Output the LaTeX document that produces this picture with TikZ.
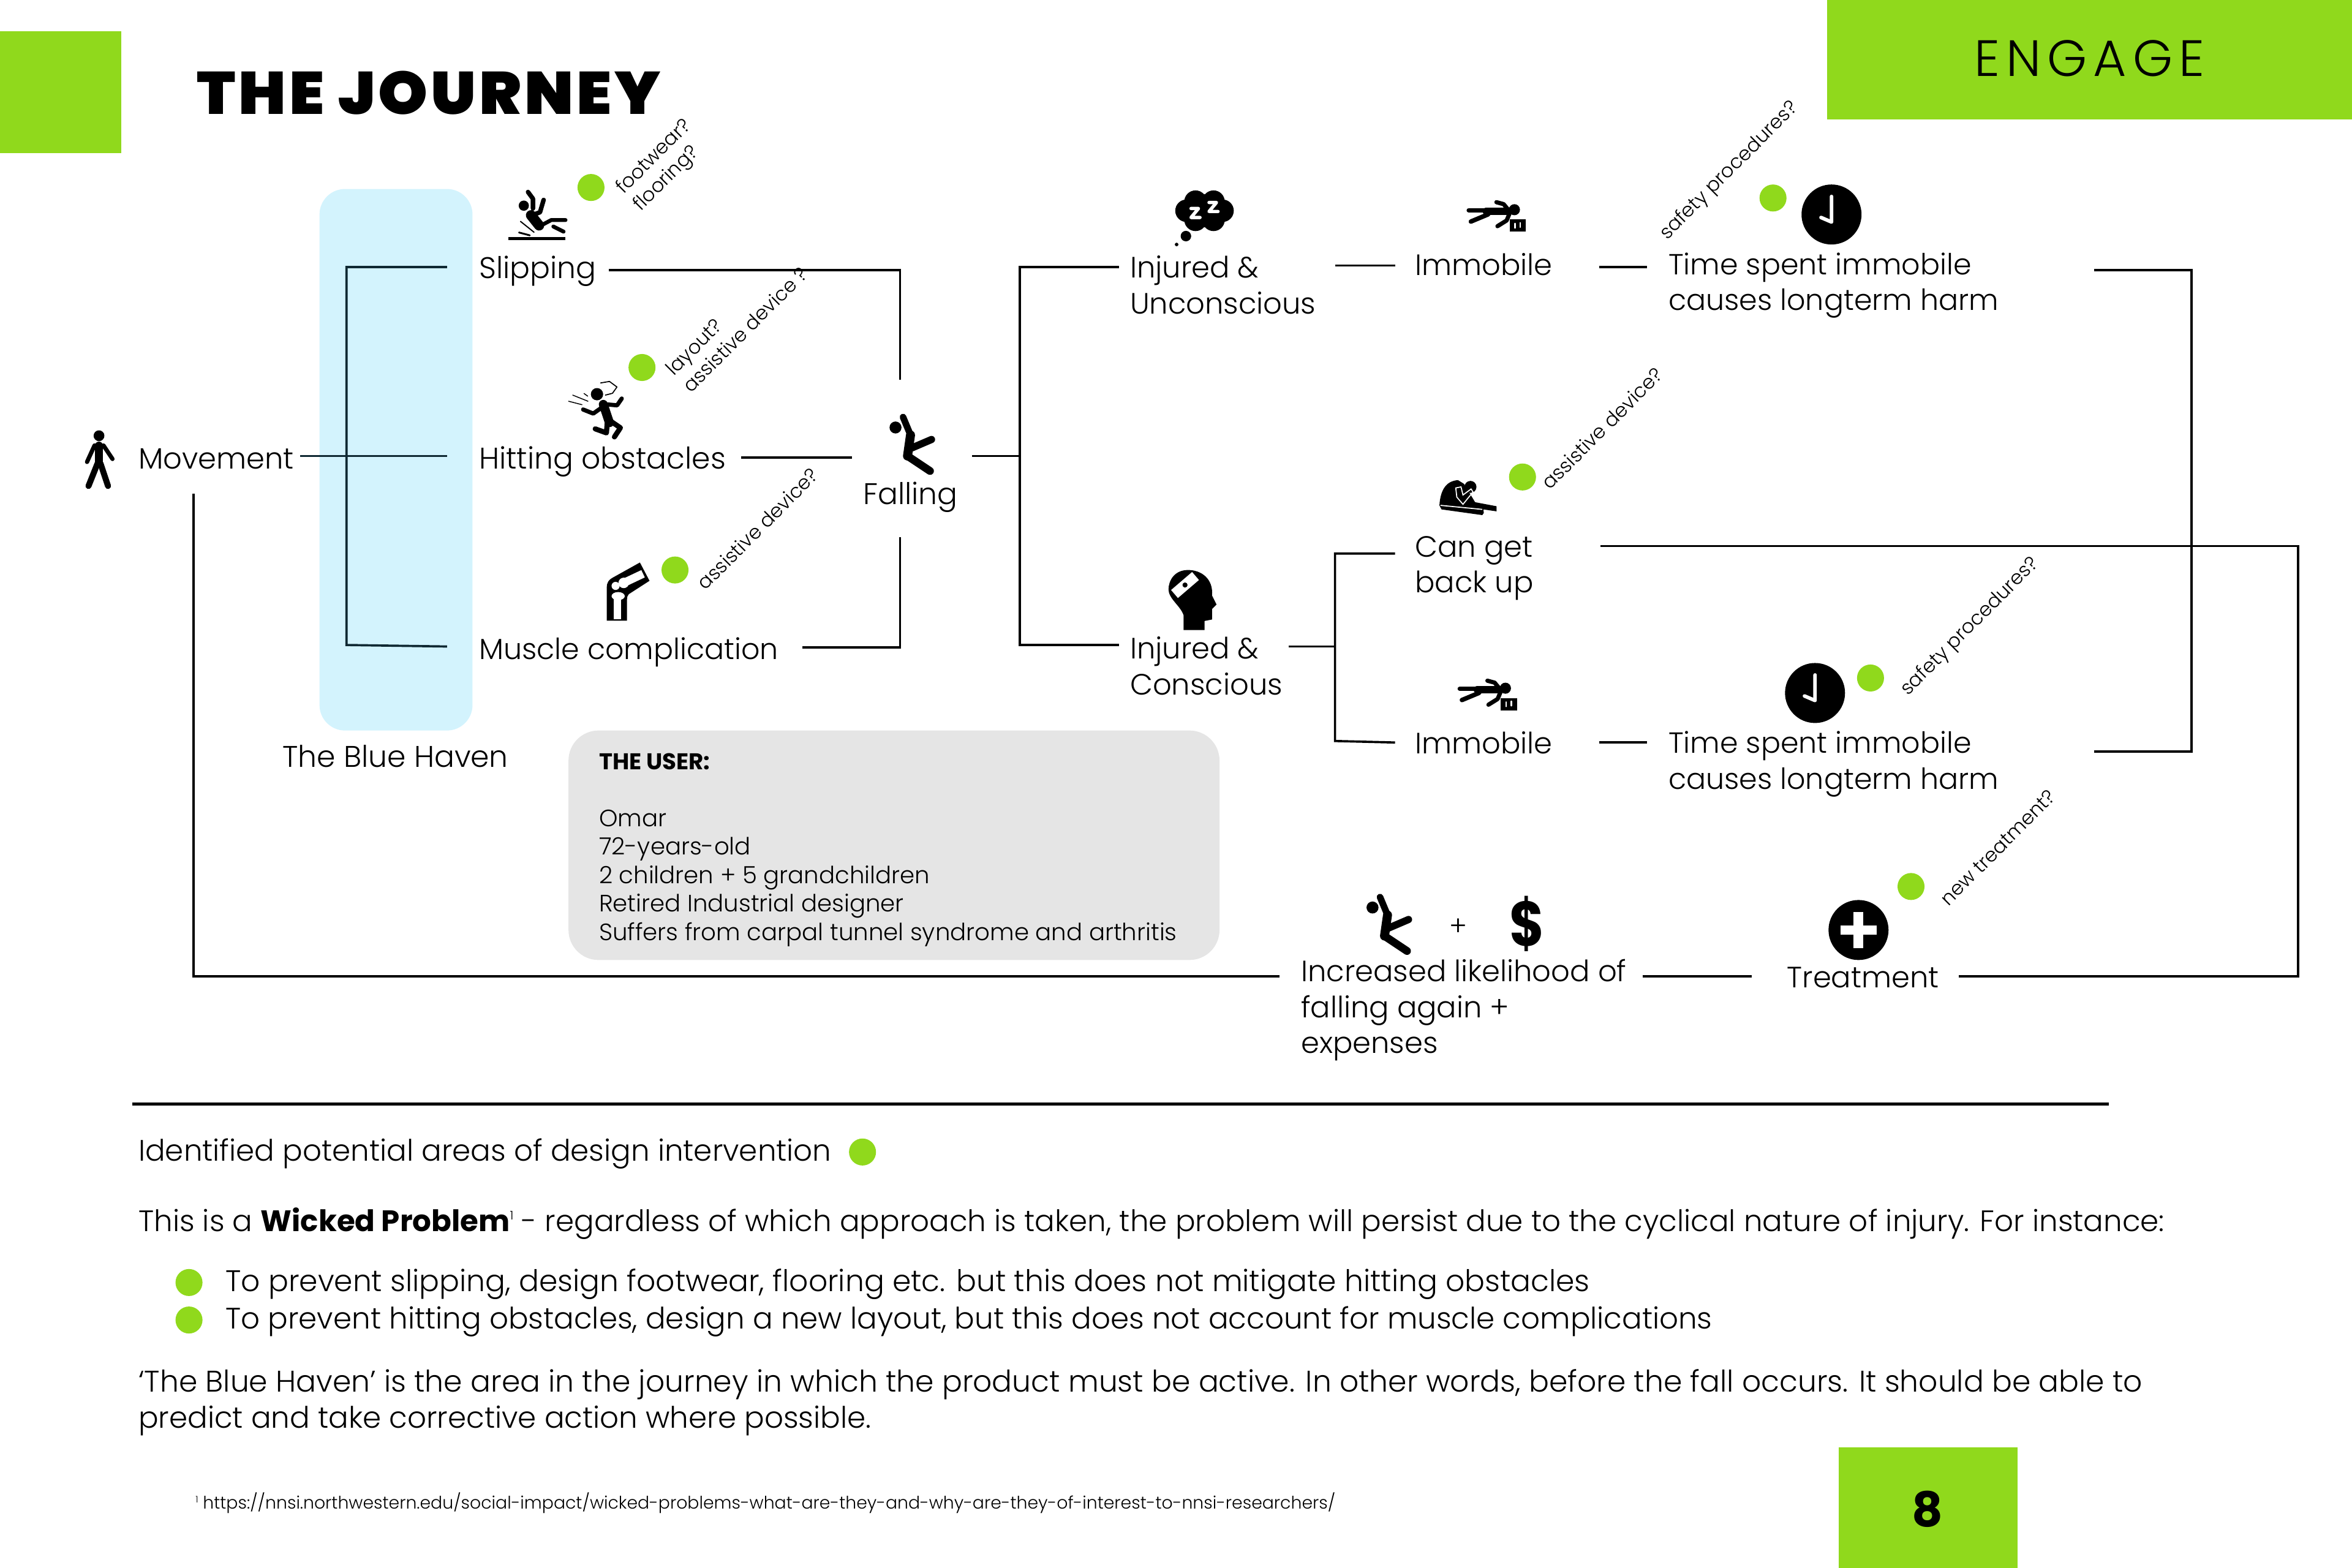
\documentclass[tikz,border=0pt]{standalone}
\usepackage{fontspec}
\setmainfont{Poppins}[UprightFont=* Light,BoldFont=* Bold]
\newfontfamily\heavyfont{Poppins}[UprightFont=* Black,LetterSpace=5,FakeStretch=1.05]
\newfontfamily\wideface{Poppins}[UprightFont=* Light,LetterSpace=12]
\usetikzlibrary{calc}
\definecolor{limegreen}{RGB}{144,217,28}
\definecolor{havenblue}{RGB}{211,243,253}
\definecolor{boxgrey}{RGB}{229,229,229}
\definecolor{trunkdark}{RGB}{15,40,50}
\tikzset{
  lbl/.style={anchor=north west,inner sep=0pt,align=left,font=\fontsize{9.8}{12}\selectfont,execute at begin node={\rule{0pt}{7.5pt}}},
  lblwide/.style={lbl,font=\fontsize{9.95}{12}\selectfont},
  lbltight/.style={lbl,font=\fontsize{9.7}{12}\selectfont},
  slant/.style={inner sep=0pt,rotate=45,align=left,font=\fontsize{6.5}{8}\selectfont},
  body/.style={inner sep=0pt,anchor=base west,font=\fontsize{9.87}{12}\selectfont},
  bodywide/.style={body,font=\fontsize{9.95}{12}\selectfont},
  usertext/.style={inner sep=0pt,anchor=base west,font=\fontsize{7.9}{9.5}\selectfont},
  greendot/.style={circle,fill=limegreen,inner sep=0pt,minimum size=9pt},
  conn/.style={line width=0.75pt},
  limb/.style={line width=#1,line cap=round,line join=round},
  limb/.default=2pt,
  pics/faller/.style={code={
    \fill (-11,-11) circle (4);
    \draw[limb=2.2pt] (-6,-18) -- (-1,-6);
    \draw[limb=3pt] (-1,-6) -- (-3,8);
    \draw[limb=2.6pt] (-3,8) -- (12,18);
    \draw[limb=2.4pt] (-1,3) -- (13,-3);
  }},
  pics/prone/.style={code={
    \fill (11.6,-4.2) circle (3.7);
    \draw[limb=2.4pt] (-7.2,-3.1) -- (8.4,-3.1);
    \draw[limb=1.5pt] (-18.8,-3.8) -- (-5.9,-3.8);
    \draw[limb=1.5pt] (-17.4,3.7) -- (-5.9,-1.1);
    \draw[limb=1.4pt] (-0.4,-9.2) -- (4.4,-7.9) -- (7.8,-3.8);
    \draw[limb=1.4pt] (0.3,6.8) -- (6.4,3) -- (8.4,-1.8);
    \fill (8.4,2.3) rectangle (19.3,10.5);
    \draw[white,limb=0.5pt] (12,5) -- (12,8) (15.5,4.5) -- (15.5,7.5);
  }},
  pics/clockface/.style={code={
    \fill (0,0) circle (20);
    \draw[white,limb=1.2pt] (0,-12) -- (0,5) -- (-7,2);
  }},
}
\begin{document}
\begin{tikzpicture}[x=0.5pt,y=-0.5pt]
  \useasboundingbox (0,0) rectangle (1568,1045.33);

  % page furniture
  \fill[limegreen] (0,21) rectangle (81,102);
  \fill[limegreen] (1218,0) rectangle (1568,79.5);
  \fill[limegreen] (1226,965) rectangle (1345,1045.33);
  \fill[havenblue,rounded corners=8.5pt] (213,126) rectangle (315,487);
  \fill[boxgrey,rounded corners=10pt] (379,487) rectangle (813,640);
  \node[inner sep=0pt,anchor=base west,font=\heavyfont\fontsize{20}{24}\selectfont] (title) at (131,76) {THE JOURNEY};
  \node[inner sep=0pt,font=\wideface\fontsize{17}{20}\selectfont] (engage) at (1393,39) {ENGAGE};
  \node[inner sep=0pt,font=\bfseries\fontsize{16}{20}\selectfont] (pagenum) at (1285,1006) {8};

  % labels of the journey
  \node[lbl] (movement) at (92,297) {Movement};
  \node[lblwide] (slipping) at (319,170) {Slipping};
  \node[lblwide] (hitting) at (319,297) {Hitting obstacles};
  \node[lbltight] (muscle) at (319,424) {Muscle complication};
  \node[lblwide] (falling) at (575,321) {Falling};
  \node[lblwide] (haven) at (188,496) {The Blue Haven};
  \node[lbl] (unconscious) at (753,170) {Injured \&\\Unconscious};
  \node[lbl] (conscious) at (753,424) {Injured \&\\Conscious};
  \node[lbl] (immobileA) at (943,168) {Immobile};
  \node[lbl] (immobileB) at (943,487) {Immobile};
  \node[lbltight] (timeA) at (1112,168) {Time spent immobile\\causes longterm harm};
  \node[lbltight] (timeB) at (1112,487) {Time spent immobile\\causes longterm harm};
  \node[lbl] (getup) at (943,357) {Can get\\back up};
  \node[lbl] (likely) at (867,639) {Increased likelihood of\\falling again +\\expenses};
  \node[lbl] (treatment) at (1191,643) {Treatment};

  % connectors
  \draw[conn,trunkdark] ($(movement.north west)+(108,7)$) -- ($(hitting.north west)+(-21,7)$);
  \draw[conn,trunkdark] ($(slipping.north west)+(-21,8)$) -- (231,178) -- (231,430) -- ($(muscle.north west)+(-21,7)$);
  \draw[conn] ($(slipping.north west)+(87,10)$) -| (600,253);
  \draw[conn] ($(hitting.north west)+(175,8)$) -- ($(falling.north west)+(-7,-16)$);
  \draw[conn] ($(muscle.north west)+(216,7.5)$) -| (600,358);
  \draw[conn] ($(falling.north west)+(73,-17)$) -- (680,304);
  \draw[conn] ($(unconscious.north west)+(-7,8)$) -- (680,178) -- (680,430) -- ($(conscious.north west)+(-7,6)$);
  \draw[conn] ($(unconscious.north west)+(137,7)$) -- ($(immobileA.north west)+(-13,9)$);
  \draw[conn] ($(immobileA.north west)+(123,10)$) -- ($(timeA.north west)+(-14,10)$);
  \draw[conn] ($(timeA.north west)+(284,12)$) -- (1461,180) -- (1461,501) -- ($(timeB.north west)+(284,14)$);
  \draw[conn] ($(conscious.north west)+(106,7)$) -- (890,431);
  \draw[conn] ($(getup.north west)+(-13,12)$) -- (890,369) -- (890,494) -- ($(immobileB.north west)+(-13,8)$);
  \draw[conn] ($(immobileB.north west)+(123,8)$) -- ($(timeB.north west)+(-14,8)$);
  \draw[conn] ($(getup.north west)+(124,7)$) -- (1532,364) -- (1532,651) -- ($(treatment.north west)+(115,8)$);
  \draw[conn] ($(likely.north west)+(228,12)$) -- ($(treatment.north west)+(-23,8)$);
  \draw[conn] ($(movement.north west)+(37,32)$) |- ($(likely.north west)+(-14,12)$);

  % icons
  \begin{scope}[shift={(66,306)}]
    \fill (0,-15.5) circle (3.6);
    \draw[limb=2.6pt] (0,-9) -- (0,3);
    \draw[limb=1.4pt] (-3,-9) -- (-8,2);
    \draw[limb=1.4pt] (3,-9) -- (9,0);
    \draw[limb=2pt] (-1,3) -- (-7,18);
    \draw[limb=2pt] (1,3) -- (6,18);
  \end{scope}
  \begin{scope}[shift={(358,143)}]
    \draw[line width=1pt] (-19,16.2) -- (19,16.2);
    \fill (-8.8,-5.9) circle (3.4);
    \draw[limb=1.5pt] (-6,-15) -- (-2.7,-10.5) -- (-2.7,-4);
    \draw[limb=1.5pt] (4.4,-9.7) -- (2,-1.5) -- (-3.4,0.5);
    \draw[limb=3.4pt] (-4,0.5) -- (1.4,7.3);
    \draw[limb=1.3pt] (1.4,8) -- (9.5,3.7) -- (19,3.7);
    \draw[limb=1.3pt] (10.9,8) -- (17.7,11.4);
    \draw[limb=0.4pt] (-11,4.6) -- (-2,11.8);
    \draw[limb=0.6pt] (-12,12) -- (-4.8,13.9);
  \end{scope}
  \begin{scope}[shift={(398,272)}]
    \fill (0,-9.2) circle (4.1);
    \draw[limb=3pt] (4.2,-2.4) -- (8.3,9.8);
    \draw[limb=1.4pt] (4.2,-1) -- (-2.5,3.7) -- (-9.3,1);
    \draw[limb=1.4pt] (6.3,-2.4) -- (13.4,-1.8) -- (16.5,-6.3);
    \draw[limb=1.7pt] (6.8,9.8) -- (6.3,16.6) -- (-1.2,13.9);
    \draw[limb=1.7pt] (9.6,9.1) -- (15.6,13.2) -- (11.6,19.3);
    \draw[limb=0.3pt] (-16.2,-8.6) -- (-6,-4.5) (-18.9,-4.5) -- (-10,-2.2) (-8.7,-9.7) -- (-6.2,-7.9);
    \draw[limb=0.35pt] (2.4,-16.7) -- (8.3,-17.7) -- (13.3,-14) -- (10.3,-9.8) -- (5.6,-8.6);
  \end{scope}
  \begin{scope}[shift={(418,395)}]
    \fill (-13.5,18.8) -- (-13.5,-3) .. controls (-13.5,-7) and (-12,-8.5) .. (-9.7,-9.8) -- (8.6,-20) -- (15,-7.8) -- (1.2,1.1) .. controls (0.3,2) and (0,3) .. (0,5) -- (0,18.8) -- cycle;
    \fill[white] (-8.7,3.8) rectangle (-4,18);
    \fill[white] (-5.9,2.4) ellipse (4.4 and 2.7);
    \fill[white] (-7.6,-4.4) circle (2.7);
    \fill[white] (-2.2,-6.4) circle (3.5);
    \draw[white,line width=2.7pt] (-2.2,-6.4) -- (10.7,-12.5);
  \end{scope}
  \pic at (608,296) {faller};
  \begin{scope}[shift={(803,145)}]
    \fill (0,-4.5) ellipse (15 and 11);
    \foreach \ang in {0,60,...,300}
      \fill ({12*cos(\ang)},{-4.5+7*sin(\ang)}) circle (7.5);
    \fill (-12.4,12.4) circle (3.5);
    \fill (-18.6,18) circle (1.2);
    \draw[white,limb=1.1pt] (-9,-6) -- (-4,-6) -- (-9,0) -- (-3,0);
    \draw[white,limb=1.1pt] (3,-10) -- (8,-10) -- (3,-4) -- (9,-4);
  \end{scope}
  \pic at (998,144) {prone};
  \pic at (1221,143) {clockface};
  \begin{scope}[shift={(978,331)}]
    \fill (-18.4,5.9) .. controls (-17.7,-5.7) and (-12.9,-10.5) .. (-6,-10.9) -- (-2,-8.4) -- (5.4,3.8) -- (19.7,6.5) -- (19.7,9.9) -- (10.9,8.6) -- (11.2,10.9) -- (10.2,12.4) -- (-17,8.6) -- cycle;
    \fill (2.3,-6.4) circle (4);
    \draw[white,line width=0.35pt] (-17.7,5.9) -- (10.2,8.6);
    \draw[white,line width=0.35pt] (-7.5,-5.7) -- (-4,-6.4) -- (-2.7,-1) -- (2.7,-5) -- (4,-3) -- (-2.7,5.2) -- (-6.8,0.4) -- cycle;
  \end{scope}
  \begin{scope}[shift={(795,400)}]
    \fill (-6,20) -- (8,20) -- (8,14) -- (13,13) -- (13,6) -- (16,3) -- (13,-3) .. controls (14,-14) and (6,-20) .. (-3,-20) .. controls (-12,-20) and (-16,-13) .. (-16,-7) .. controls (-16,-1) and (-8,4) .. (-6,10) -- cycle;
    \draw[white,line width=3.5pt] (-12,-4) -- (2,-16);
    \fill (-5,-10) circle (1.7);
  \end{scope}
  \pic at (992,463) {prone};
  \pic at (1210,462) {clockface};
  \pic at (926,616) {faller};
  \node[inner sep=0pt,font=\fontsize{9}{10}\selectfont] (plussign) at (972,618) {+};
  \node[inner sep=0pt,xscale=0.85,font=\bfseries\fontsize{21}{24}\selectfont] (dollar) at (1018,616) {\$};
  \begin{scope}[shift={(1239,620)}]
    \fill (0,0) circle (20);
    \draw[white,line width=3.2pt] (-12,0) -- (12,0) (0,-12) -- (0,12);
  \end{scope}

  % design intervention dots and their questions
  \node[greendot] (dotslip) at (394,125) {};
  \node[greendot] (dothit) at (428,245) {};
  \node[greendot] (dotmuscle) at (450,380) {};
  \node[greendot] (dotsafeA) at (1182,132) {};
  \node[greendot] (dotgetup) at (1015,318) {};
  \node[greendot] (dotsafeB) at (1247,452) {};
  \node[greendot] (dottreat) at (1274,591) {};
  \node[slant] (askslip) at (442,110.5) {footwear?\\flooring?};
  \node[slant] (askhit) at (491,214) {layout?\\assistive device ?};
  \node[slant] (askmuscle) at (505,352.5) {assistive device?};
  \node[slant] (asksafeA) at (1153,114) {safety procedures?};
  \node[slant] (askgetup) at (1068,285.5) {assistive device?};
  \node[slant] (asksafeB) at (1313.5,418) {safety procedures?};
  \node[slant] (asktreat) at (1332,565) {new treatment?};

  % the user
  \node[usertext,font=\bfseries\fontsize{7.6}{9}\selectfont] (usertitle) at (399,513) {THE USER:};
  \node[usertext] (userA) at (399,551) {Omar};
  \node[usertext] (userB) at (399,570) {72-years-old};
  \node[usertext] (userC) at (399,589) {2 children + 5 grandchildren};
  \node[usertext] (userD) at (399,608) {Retired Industrial designer};
  \node[usertext] (userE) at (399,627) {Suffers from carpal tunnel syndrome and arthritis};

  % notes under the rule
  \draw[line width=1.2pt] (88,736) -- (1406,736);
  \node[body] (noteA) at (92,774) {Identified potential areas of design intervention};
  \node[greendot] (dotnote) at (575,768) {};
  \node[body] (noteB) at (92,821) {This is a \textbf{Wicked Problem}\raisebox{4pt}{\fontsize{4}{4}\selectfont 1} - regardless of which approach is taken, the problem will persist due to the cyclical nature of injury. For instance:};
  \node[greendot] (bulletA) at (126,855) {};
  \node[greendot] (bulletB) at (126,880) {};
  \node[bodywide] (noteC) at (150,861) {To prevent slipping, design footwear, flooring etc. but this does not mitigate hitting obstacles};
  \node[body] (noteD) at (150,886) {To prevent hitting obstacles, design a new layout, but this does not account for muscle complications};
  \node[bodywide] (noteE) at (92,928) {‘The Blue Haven’ is the area in the journey in which the product must be active. In other words, before the fall occurs. It should be able to};
  \node[body] (noteF) at (92,952) {predict and take corrective action where possible.};
  \node[inner sep=0pt,anchor=base west,font=\fontsize{5.78}{7}\selectfont] (footnote) at (130,1006) {\raisebox{2pt}{\fontsize{3}{3}\selectfont 1} https://nnsi.northwestern.edu/social-impact/wicked-problems-what-are-they-and-why-are-they-of-interest-to-nnsi-researchers/};
\end{tikzpicture}
\end{document}
